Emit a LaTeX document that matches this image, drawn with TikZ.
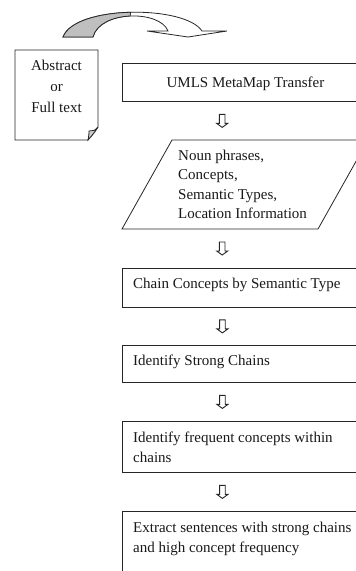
\documentclass[tikz,border=0pt]{standalone}
\usepackage{fontspec}
\setmainfont{Liberation Serif}
\usetikzlibrary{calc}
\tikzset{
  x=1pt,y=1pt,
  boxshape/.style={draw=black!85, line width=0.8pt, fill=white, rectangle, inner sep=0pt,
    anchor=north west, minimum width=247pt},
  txt/.style={inner sep=0pt, font=\fontsize{15}{19.5}\selectfont, text=black!90},
  outl/.style={draw=black!85, line width=0.8pt},
  dnarrow/.pic={\draw[line width=0.9pt, draw=black!85, fill=white]
     (-2.8,6.5)--(2.8,6.5)--(2.8,-2.5)--(5.5,-2.5)--(0,-6.5)--(-5.5,-2.5)--(-2.8,-2.5)--cycle;}
}
\begin{document}
\begin{tikzpicture}
\useasboundingbox (0,0) rectangle (356,-571);
\clip (0,0) rectangle (356,-571);
\fill[white] (0,0) rectangle (356,-571);

% curved block arrow at the top
\path[outl, fill=white] (63,-37) .. controls (75,-5) and (185,-5) .. (202,-31)
  -- (227,-31) -- (188,-37) -- (147,-31) -- (168,-31)
  .. controls (160,-10) and (100,-10) .. (93,-37) -- cycle;
\path[outl, fill=black!25] (63,-37) .. controls (69,-21) and (99.5,-13) .. (130.6,-12.25)
  -- (130.1,-16) .. controls (113.25,-16.75) and (96.5,-23.5) .. (93,-37) -- cycle;

% document shape (Abstract or Full text)
\path[outl, fill=white] (15,-50) -- (98,-50) -- (98,-127) .. controls (94,-133) .. (88,-140) -- (15,-140) -- cycle;
\path[outl, fill=black!20] (98,-127) .. controls (95,-131) and (92,-131) .. (89,-131)
  .. controls (89,-134) .. (88,-140) .. controls (94,-133) .. cycle;
\node[txt, align=center, font=\fontsize{15}{21}\selectfont, anchor=base] (abs) at (56.5,-112) {Abstract\\or\\Full text};

% process boxes
\node[boxshape, minimum height=38pt] (umls) at (122,-63) {};
\node[txt, anchor=base] (umlst) at (245.5,-87) {UMLS MetaMap Transfer};

% parallelogram
\path[outl, fill=white] (122,-229) -- (172,-140) -- (368,-140) -- (318,-229) -- cycle;
\coordinate (npn) at (245.5,-140);
\coordinate (nps) at (245.5,-229);
\node[txt, align=left, anchor=base west] (npt) at (178,-218.5)
  {Noun phrases,\\Concepts,\\Semantic Types,\\Location Information};

\node[boxshape, minimum height=39pt] (chain) at (122,-268) {};
\node[txt, anchor=base west] (chaint) at (133,-288) {Chain Concepts by Semantic Type};

\node[boxshape, minimum height=37pt] (strong) at (122,-345) {};
\node[txt, anchor=base west] (strongt) at (133,-365) {Identify Strong Chains};

\node[boxshape, minimum height=51pt] (freq) at (122,-421) {};
\node[txt, align=left, anchor=base west, font=\fontsize{15}{20}\selectfont] (freqt) at (133,-462)
  {Identify frequent concepts within\\chains};

\node[boxshape, minimum height=80pt] (extr) at (122,-511) {};
\node[txt, align=left, anchor=base west, font=\fontsize{15}{20}\selectfont] (extrt) at (133,-552)
  {Extract sentences with strong chains\\and high concept frequency};

% hollow down arrows between steps
\pic at ([xshift=-23.5pt]$(umls.south)!.5!(npn)$) {dnarrow};
\pic at ([xshift=-23.5pt]$(nps)!.5!(chain.north)$) {dnarrow};
\pic at ([xshift=-23.5pt]$(chain.south)!.5!(strong.north)$) {dnarrow};
\pic at ([xshift=-23.5pt]$(strong.south)!.5!(freq.north)$) {dnarrow};
\pic at ([xshift=-23.5pt]$(freq.south)!.5!(extr.north)$) {dnarrow};
\end{tikzpicture}
\end{document}
